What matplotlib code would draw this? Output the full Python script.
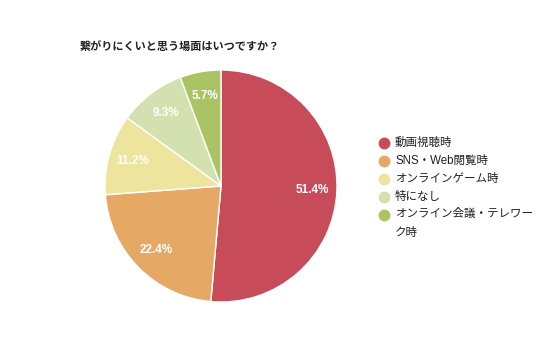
import matplotlib.pyplot as plt
from matplotlib.lines import Line2D

plt.rcParams['font.family'] = ['Liberation Sans', 'Noto Sans CJK JP']

labels = ['動画視聴時', 'SNS・Web閲覧時', 'オンラインゲーム時', '特になし', 'オンライン会議・テレワー\nク時']
values = [51.4, 22.4, 11.2, 9.3, 5.7]
colors = ['#c84b5a', '#e6a865', '#ede49e', '#d3e1b0', '#abc463']

W, H = 536, 357
fig = plt.figure(figsize=(W / 100, H / 100), dpi=100)

cx, cy, r = 221, 186, 116
ax = fig.add_axes([(cx - r) / W, (H - cy - r) / H, 2 * r / W, 2 * r / H])
wedges, texts, autotexts = ax.pie(
    values, colors=colors, startangle=90, counterclock=False,
    autopct='%1.1f%%', pctdistance=0.79,
    wedgeprops=dict(edgecolor='white', linewidth=1),
    textprops=dict(color='white', fontsize=8.5, fontweight='bold'))
ax.set_xlim(-1, 1)
ax.set_ylim(-1, 1)
ax.set_aspect('equal')

fig.text(80 / W, 1 - 47 / H, '繋がりにくいと思う場面はいつですか？',
         fontsize=8, fontweight='bold', va='center', ha='left', color='#222222')

ys = [143, 161, 179, 197, 215]
for y, lab, c in zip(ys, labels, colors):
    fig.add_artist(Line2D([384 / W], [1 - y / H], marker='o', markersize=7.5,
                          color=c, linestyle='none', transform=fig.transFigure))
    if '\n' in lab:
        fig.text(395 / W, 1 - (y - 7) / H, lab, fontsize=8.3, ha='left', va='top',
                 color='#222222', linespacing=1.75)
    else:
        fig.text(395 / W, 1 - y / H, lab, fontsize=8.3, ha='left', va='center', color='#222222')

fig.savefig('out.png', dpi=100)
